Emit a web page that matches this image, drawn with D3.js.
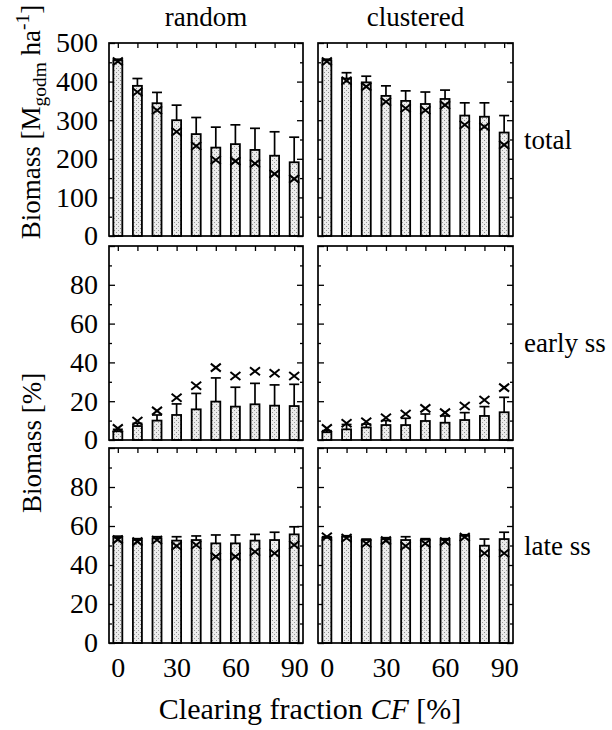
<!DOCTYPE html>
<html>
<head>
<meta charset="utf-8">
<script src="https://cdn.jsdelivr.net/npm/d3@7"></script>
<style>
  body { margin: 0; background: #fff; }
  svg, svg text { font-family: "Liberation Serif", "Times New Roman", Times, "DejaVu Serif", serif; }
</style>
</head>
<body>
<svg id="chart" width="612" height="730"></svg>
<script>
// clearing fraction CF [%]
const cf = [0, 10, 20, 30, 40, 50, 60, 70, 80, 90];
const xTickLabels = [0, 30, 60, 90];

// total biomass [Mg odm / ha]: bar = mean, upper = top of error bar, cross = marker
const randomTotalMean   = [455, 389, 344, 300, 264, 229, 238, 223, 208, 191];
const randomTotalUpper  = [458, 408, 372, 339, 307, 282, 288, 279, 270, 256];
const randomTotalCross  = [452, 373, 326, 270, 233, 197, 194, 188, 161, 148];
const clusterTotalMean  = [455, 408, 398, 363, 350, 342, 355, 312, 309, 268];
const clusterTotalUpper = [458, 423, 414, 389, 376, 373, 378, 345, 345, 312];
const clusterTotalCross = [452, 402, 387, 348, 331, 326, 339, 288, 283, 236];

// early successional species [%]
const randomEarlyMean   = [4.5, 7.2, 10, 12.9, 15.8, 19.8, 17.2, 18.4, 17.7, 17.5];
const randomEarlyUpper  = [5.5, 8.6, 12.9, 18.6, 24, 32, 27.2, 29.2, 28.4, 28.7];
const randomEarlyCross  = [6, 9.8, 15, 21.8, 28, 37.3, 33, 35.4, 34.4, 33];
const clusterEarlyMean  = [4, 5.5, 6.5, 7.7, 7.7, 9.8, 8.9, 10.3, 12.4, 14.3];
const clusterEarlyUpper = [4.8, 8, 8.2, 10, 11.2, 13.4, 12.4, 14.1, 17.2, 22];
const clusterEarlyCross = [6, 8.6, 9.4, 11.5, 13.4, 16.3, 14.1, 17.5, 20.6, 27];

// late successional species [%]
const randomLateMean    = [54.2, 52.8, 53.7, 52.5, 52.8, 51.1, 51.1, 52.5, 52.8, 55.7];
const randomLateUpper   = [54.8, 53.5, 54.5, 54.5, 54.9, 55.4, 55.4, 55.7, 56.8, 59.6];
const randomLateCross   = [53, 52, 52.8, 49.7, 50.3, 44.3, 44.3, 46.8, 46, 50.3];
const clusterLateMean   = [54, 54.5, 52.8, 53.3, 52.8, 53, 53, 55, 49.9, 53.3];
const clusterLateUpper  = [54.5, 55, 53.3, 54, 54.5, 53.5, 53.5, 55.5, 53.3, 56.8];
const clusterLateCross  = [54.5, 53.8, 51, 52.5, 49.7, 51, 52, 54.3, 46, 46];

// y tick labels per row
const totalTickLabels = [0, 100, 200, 300, 400, 500];
const percentTickLabels = [0, 20, 40, 60, 80];

const columnTitles = ["random", "clustered"];
const rowTitles = ["total", "early ss", "late ss"];

const serif = "'Liberation Serif', 'Times New Roman', Times, 'DejaVu Serif', serif";
const svg = d3.select("#chart").attr("font-family", serif);
const fs = 27;

// pattern to imitate the stippled bar fill
const defs = svg.append("defs");
const pat = defs.append("pattern")
    .attr("id", "stipple")
    .attr("patternUnits", "userSpaceOnUse")
    .attr("width", 4).attr("height", 4);
pat.append("rect").attr("width", 4).attr("height", 4).attr("fill", "#ececec");
pat.append("rect").attr("x", 0).attr("y", 0).attr("width", 1).attr("height", 1).attr("fill", "#8c8c8c");
pat.append("rect").attr("x", 2).attr("y", 2).attr("width", 1).attr("height", 1).attr("fill", "#9a9a9a");

const columns = [[109, 303], [318, 513]];
const rows = [
  { range: [236, 43], domain: [0, 500], major: 100, minor: 50, labels: totalTickLabels },
  { range: [440, 246], domain: [0, 100], major: 20, minor: 10, labels: percentTickLabels },
  { range: [643, 448], domain: [0, 100], major: 20, minor: 10, labels: percentTickLabels }
];

const panels = [
  [
    [randomTotalMean, randomTotalUpper, randomTotalCross],
    [clusterTotalMean, clusterTotalUpper, clusterTotalCross]
  ],
  [
    [randomEarlyMean, randomEarlyUpper, randomEarlyCross],
    [clusterEarlyMean, clusterEarlyUpper, clusterEarlyCross]
  ],
  [
    [randomLateMean, randomLateUpper, randomLateCross],
    [clusterLateMean, clusterLateUpper, clusterLateCross]
  ]
];

const barW = 9;

rows.forEach((row, ri) => {
  const y = d3.scaleLinear().domain(row.domain).range(row.range);
  const majorVals = d3.range(row.domain[0], row.domain[1] + 0.01, row.major);
  const minorVals = d3.range(row.domain[0], row.domain[1] + 0.01, row.minor)
    .filter(v => v % row.major !== 0);

  columns.forEach((col, ci) => {
    const x = d3.scaleLinear().domain([-4.5, 94.5]).range(col);
    const [mean, upper, cross] = panels[ri][ci];
    const data = cf.map((c, i) => ({ cf: c, mean: mean[i], upper: upper[i], cross: cross[i] }));
    const g = svg.append("g");

    // inward ticks on all four sides
    const addAxis = (axis, tx, ty) => {
      const a = g.append("g").attr("transform", `translate(${tx},${ty})`).call(axis);
      a.select(".domain").remove();
      a.selectAll("line").attr("stroke", "#000").attr("stroke-width", 1.3);
      return a;
    };
    addAxis(d3.axisLeft(y).tickValues(majorVals).tickSize(-6).tickFormat(""), col[0], 0);
    addAxis(d3.axisLeft(y).tickValues(minorVals).tickSize(-3).tickFormat(""), col[0], 0);
    addAxis(d3.axisRight(y).tickValues(majorVals).tickSize(-6).tickFormat(""), col[1], 0);
    addAxis(d3.axisRight(y).tickValues(minorVals).tickSize(-3).tickFormat(""), col[1], 0);
    addAxis(d3.axisTop(x).tickValues(cf).tickSize(-5).tickFormat(""), 0, row.range[1]);
    addAxis(d3.axisBottom(x).tickValues(cf).tickSize(-5).tickFormat(""), 0, row.range[0]);

    // y tick labels on the left column
    if (ci === 0) {
      const lab = g.append("g").attr("transform", `translate(${col[0]},0)`)
        .call(d3.axisLeft(y).tickValues(row.labels).tickSize(0).tickPadding(11));
      lab.attr("font-family", serif);
      lab.select(".domain").remove();
      lab.selectAll("text")
        .attr("font-size", 28)
        .attr("font-family", serif)
        .attr("fill", "#000");
    }

    // x tick labels under the bottom row
    if (ri === rows.length - 1) {
      const lab = g.append("g").attr("transform", `translate(0,${row.range[0]})`)
        .call(d3.axisBottom(x).tickValues(xTickLabels).tickSize(0).tickPadding(14));
      lab.attr("font-family", serif);
      lab.select(".domain").remove();
      lab.selectAll("text")
        .attr("font-size", 28)
        .attr("font-family", serif)
        .attr("fill", "#000");
    }

    // error bars (upper half only)
    const err = g.append("g").attr("stroke", "#000").attr("stroke-width", 1.7);
    err.selectAll("line.v").data(data).join("line").attr("class", "v")
      .attr("x1", d => x(d.cf)).attr("x2", d => x(d.cf))
      .attr("y1", d => y(d.mean)).attr("y2", d => y(d.upper));
    err.selectAll("line.c").data(data).join("line").attr("class", "c")
      .attr("x1", d => x(d.cf) - 5).attr("x2", d => x(d.cf) + 5)
      .attr("y1", d => y(d.upper)).attr("y2", d => y(d.upper));

    // bars
    g.append("g").selectAll("rect").data(data).join("rect")
      .attr("x", d => x(d.cf) - barW / 2)
      .attr("y", d => y(d.mean))
      .attr("width", barW)
      .attr("height", d => y(0) - y(d.mean))
      .attr("fill", "url(#stipple)")
      .attr("stroke", "#000")
      .attr("stroke-width", 1.8);

    // cross markers
    g.append("g").selectAll("path").data(data).join("path")
      .attr("transform", d => `translate(${x(d.cf)},${y(d.cross)})`)
      .attr("d", "M-5,-4L5,4M-5,4L5,-4")
      .attr("fill", "none")
      .attr("stroke", "#000")
      .attr("stroke-width", 2);

    // frame
    g.append("rect")
      .attr("x", col[0]).attr("y", row.range[1])
      .attr("width", col[1] - col[0]).attr("height", row.range[0] - row.range[1])
      .attr("fill", "none").attr("stroke", "#000").attr("stroke-width", 1.7);
  });

  // row label on the right
  svg.append("text")
    .attr("x", 524)
    .attr("y", (row.range[0] + row.range[1]) / 2 + 9)
    .attr("font-size", fs)
    .attr("font-family", serif)
    .text(rowTitles[ri]);
});

// column titles
columns.forEach((col, ci) => {
  svg.append("text")
    .attr("x", (col[0] + col[1]) / 2)
    .attr("y", 26)
    .attr("text-anchor", "middle")
    .attr("font-size", fs)
    .attr("font-family", serif)
    .text(columnTitles[ci]);
});

// y axis titles
const yt1 = svg.append("text")
  .attr("transform", "translate(40,122) rotate(-90)")
  .attr("text-anchor", "middle")
  .attr("font-size", fs)
  .attr("font-family", serif);
yt1.append("tspan").text("Biomass [M");
yt1.append("tspan").attr("font-size", fs * 0.72).attr("dy", 6).text("godm");
yt1.append("tspan").attr("dy", -6).text(" ha");
yt1.append("tspan").attr("font-size", fs * 0.72).attr("dy", -11).text("-1");
yt1.append("tspan").attr("dy", 11).text("]");

svg.append("text")
  .attr("transform", "translate(41,443) rotate(-90)")
  .attr("text-anchor", "middle")
  .attr("font-size", fs)
  .attr("font-family", serif)
  .text("Biomass [%]");

// x axis title
const xt = svg.append("text")
  .attr("x", 310)
  .attr("y", 719)
  .attr("text-anchor", "middle")
  .attr("font-size", 30)
  .attr("font-family", serif);
xt.append("tspan").text("Clearing fraction ");
xt.append("tspan").attr("font-style", "italic").text("CF");
xt.append("tspan").text(" [%]");
</script>
</body>
</html>
